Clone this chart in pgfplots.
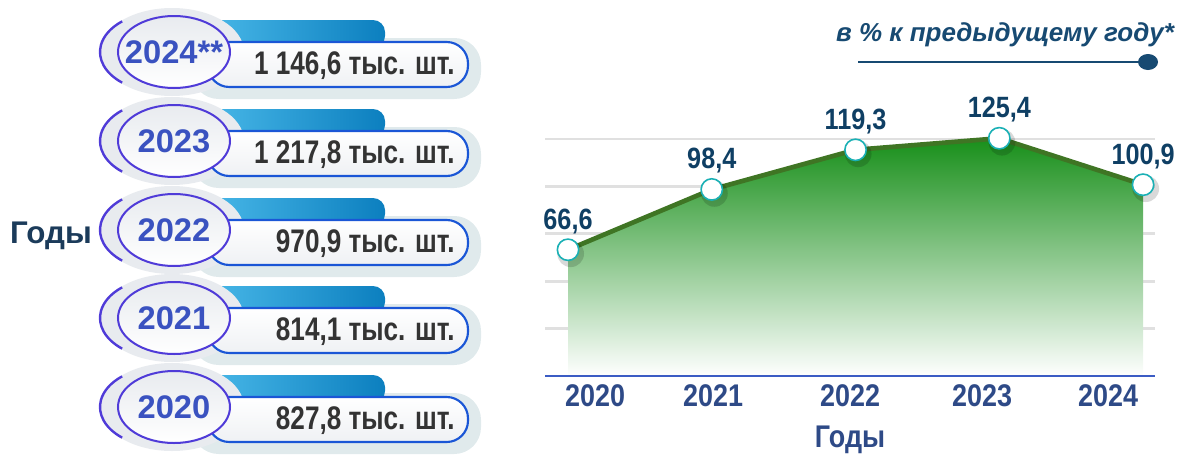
\documentclass[border=0pt]{standalone}
\usepackage{fontspec}
\setmainfont{Liberation Sans}
\newfontfamily\nar[FakeStretch=0.86]{Liberation Sans}
\newfontfamily\narr[FakeStretch=0.8]{Liberation Sans}
\usepackage{pgfplots}
\pgfplotsset{compat=1.18}
\definecolor{yearblue}{HTML}{3A52C0}
\definecolor{valgray}{HTML}{333333}
\definecolor{pillblue}{HTML}{1A56D6}
\definecolor{ellpurple}{HTML}{4F3BD8}
\definecolor{tabl}{HTML}{5CCAF5}
\definecolor{tabr}{HTML}{0C7FBF}
\definecolor{glow}{HTML}{D3E1E4}
\definecolor{halo}{HTML}{E8EBEF}
\definecolor{navy}{HTML}{174A72}
\definecolor{labnavy}{HTML}{0F3F64}
\definecolor{tickblue}{HTML}{2E4A87}
\definecolor{axisblue}{HTML}{3B5CC4}
\definecolor{gridgray}{HTML}{E0E0E0}
\definecolor{areagreen}{HTML}{188F1A}
\definecolor{linegreen}{HTML}{3F7524}
\definecolor{markteal}{HTML}{1AB0B5}
\definecolor{lefttitle}{HTML}{1B3B5A}
\newcommand\row[3]{%
  \fill[glow, opacity=0.7, rounded corners=20pt] (192,#1-4) rectangle (481,#1+57);
  \shade[left color=tabl, right color=tabr, rounded corners=9pt] (150,#1-22) rectangle (385,#1+6);
  \fill[halo] (172,#1+10) ellipse [x radius=72, y radius=44];
  \shadedraw[top color=white, bottom color=halo!70, draw=pillblue, line width=1.6pt, rounded corners=16pt] (208,#1) rectangle (468,#1+45);
  \draw[ellpurple, line width=1.8pt] (162,#1+10) ++(130:62 and 40) arc[start angle=130, end angle=230, x radius=62, y radius=40];
  \shadedraw[top color=halo, bottom color=white, draw=ellpurple, line width=1.5pt] (174,#1+10) ellipse [x radius=56, y radius=36];
  \node[font=\bfseries\fontsize{24.5}{24.5}\selectfont, text=yearblue] at (174,#1+10) {#2};
  \node[font=\narr\bfseries\fontsize{24.5}{24.5}\selectfont, text=valgray, anchor=east, inner sep=0pt] at (455,#1+24) {#3};
}
\begin{document}
\begin{tikzpicture}
\useasboundingbox (0,0) rectangle (885.75pt,-340.5pt);
\begin{scope}[x=0.75pt,y=-0.75pt]
  \row{42}{2024**}{1 146,6 тыс. шт.}
  \row{131}{2023}{1 217,8 тыс. шт.}
  \row{220}{2022}{970,9 тыс. шт.}
  \row{308}{2021}{814,1 тыс. шт.}
  \row{397}{2020}{827,8 тыс. шт.}
  \node[font=\bfseries\fontsize{23.5}{23.5}\selectfont, text=lefttitle] at (51,236) {Годы};
  \node[font=\bfseries\itshape\fontsize{19.5}{19.5}\selectfont, text=navy] at (1005,35) {в \% к предыдущему году*};
  \draw[navy, line width=2.2pt] (858,62) -- (1140,62);
  \fill[navy] (1148,62) ellipse [x radius=10, y radius=8];
\end{scope}
\begin{axis}[
  at={(408.75pt,-282pt)}, anchor=south west, scale only axis,
  width=457.5pt, height=177.75pt,
  xmin=-0.16, xmax=4.083, ymin=0, ymax=125, clip=false,
  axis line style={draw=none},
  ytick={0,25,50,75,100,125}, yticklabels={},
  ymajorgrids, major grid style={draw=gridgray, line width=2pt},
  major tick length=0pt,
  xtick={0.188,1.009,1.962,2.880,3.757},
  xticklabels={2020,2021,2022,2023,2024},
  xticklabel style={font=\nar\bfseries\fontsize{23.5}{23.5}\selectfont, text=tickblue, yshift=-3pt},
  xlabel={Годы},
  xlabel style={font=\nar\bfseries\fontsize{23.5}{23.5}\selectfont, text=tickblue, at={(axis description cs:0.5,-0.27)}, anchor=center},
]
\addplot[draw=none, top color=areagreen, bottom color=white] coordinates {(0,66.6) (1,98.4) (2,119.3) (3,125.4) (4,100.9)} \closedcycle;
\draw[axisblue, line width=1.5pt] (axis cs:-0.16,0) -- (axis cs:4.083,0);
\addplot[linegreen, line width=3.5pt, mark=none] coordinates {(0,66.6) (1,98.4) (2,119.3) (3,125.4) (4,100.9)};
\addplot[only marks, mark=*, mark size=10pt, mark options={black, draw opacity=0, fill opacity=0.15, xshift=2pt, yshift=-3pt}] coordinates {(0,66.6) (1,98.4) (2,119.3) (3,125.4) (4,100.9)};
\addplot[only marks, mark=*, mark size=8pt, mark options={fill=white, draw=markteal, line width=1.2pt},
  nodes near coords, point meta=explicit symbolic,
  every node near coord/.append style={font=\nar\bfseries\fontsize{22}{22}\selectfont, text=labnavy, anchor=south, yshift=8pt}]
  coordinates {(0,66.6) [66,6] (1,98.4) [98,4] (2,119.3) [119,3] (3,125.4) [125,4] (4,100.9) [100,9]};
\end{axis}
\end{tikzpicture}
\end{document}
